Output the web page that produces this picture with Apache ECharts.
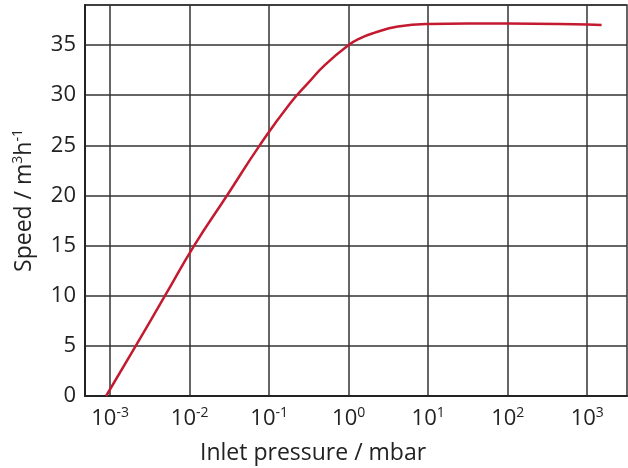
<!DOCTYPE html>
<html>
<head>
<meta charset="utf-8">
<script src="https://cdn.jsdelivr.net/npm/echarts@6/dist/echarts.min.js"></script>
<style>
  html, body { margin: 0; padding: 0; background: #fff; }
  #chart { width: 628px; height: 468px; }
</style>
</head>
<body>
<div id="chart"></div>
<script>
// inlet pressure (mbar) and pumping speed (m3/h)
const pressure = [0.00089, 0.0021, 0.0049, 0.0114, 0.0295, 0.076, 0.18, 0.316, 0.5, 1, 1.41, 2.04, 4.17, 10, 100, 1000, 1514];
const speed = [0, 5, 10, 15, 20, 25, 29.1, 31.3, 33.0, 35.0, 35.7, 36.2, 36.85, 37.1, 37.15, 37.05, 37.0];

// decade ticks on the pressure axis
const xTicks = [0.001, 0.01, 0.1, 1, 10, 100, 1000];

const xMin = Math.pow(10, -3.316);
const xMax = Math.pow(10, 3.5);
const yMax = 39;

const fontName = "Open Sans";
const txtColor = "#222";

const chart = echarts.init(document.getElementById("chart"));

const option = {
  animation: false,
  title: {
    text: "Inlet pressure / mbar",
    left: 195,
    top: 437,
    textStyle: { fontFamily: fontName, fontSize: 23, fontWeight: "normal", color: txtColor },
  },
  grid: {
    left: 85,
    right: 1,
    top: 5,
    bottom: 72,
    show: true,
    borderColor: "#333",
    borderWidth: 1.5,
  },
  xAxis: {
    type: "log",
    logBase: 10,
    min: xMin,
    max: xMax,
    axisLine: { lineStyle: { color: "#222", width: 2 } },
    axisTick: { show: false, customValues: xTicks },
    splitLine: { show: true, lineStyle: { color: "#333", width: 1.5 } },
    axisLabel: {
      customValues: xTicks,
      margin: 10,
      formatter: function (v) {
        const e = Math.round(Math.log10(v));
        return "{b|10}{s|" + e + "}";
      },
      rich: {
        b: { fontFamily: fontName, fontSize: 22, color: txtColor, lineHeight: 26 },
        s: { fontFamily: fontName, fontSize: 14, color: txtColor, verticalAlign: "top", lineHeight: 26 },
      },
    },
  },
  yAxis: {
    type: "value",
    min: 0,
    max: yMax,
    interval: 5,
    name: "{a|Speed / m}{s|3}{a|h}{s|-1}",
    nameLocation: "middle",
    nameGap: 48,
    nameTextStyle: {
      rich: {
        a: { fontFamily: fontName, fontSize: 23, color: txtColor, lineHeight: 26 },
        s: { fontFamily: fontName, fontSize: 14, color: txtColor, verticalAlign: "top", lineHeight: 26 },
      },
    },
    axisLine: { show: true, lineStyle: { color: "#222", width: 2 } },
    axisTick: { show: false },
    splitLine: { show: true, lineStyle: { color: "#333", width: 1.5 } },
    axisLabel: {
      showMaxLabel: false,
      margin: 9,
      fontFamily: fontName,
      fontSize: 22,
      color: txtColor,
    },
  },
  series: [
    {
      type: "line",
      data: pressure.map((p, i) => [p, speed[i]]),
      smooth: 0.5,
      showSymbol: false,
      lineStyle: { color: "#c41a30", width: 2.5 },
    },
  ],
};

chart.setOption(option);
</script>
</body>
</html>
